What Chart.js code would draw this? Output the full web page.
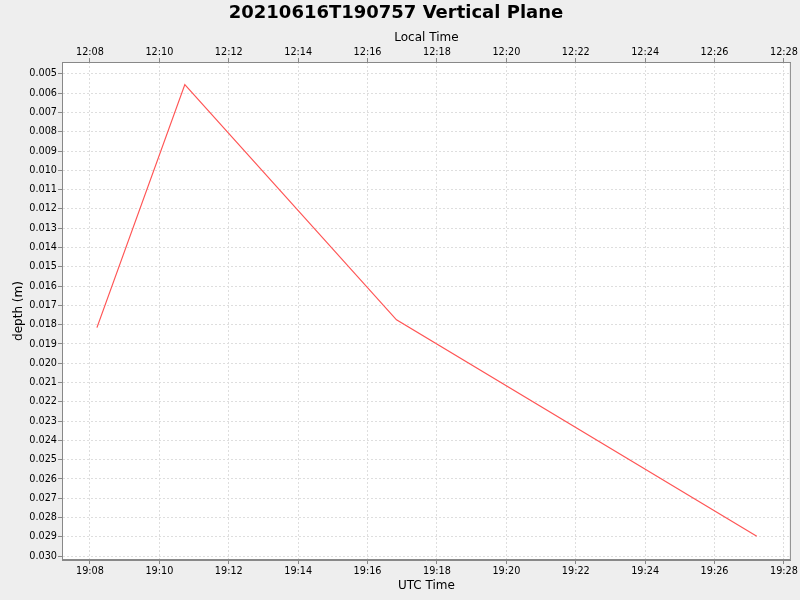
<!DOCTYPE html>
<html>
<head>
<meta charset="utf-8">
<script src="https://cdn.jsdelivr.net/npm/chart.js@4"></script>
<style>
  body { margin: 0; background: #eeeeee; }
  canvas { display: block; }
</style>
</head>
<body>
<canvas id="myChart" width="800" height="600"></canvas>
<script>
// readings (UTC) and depth
const utcTimes = ["19:08:12", "19:10:44", "19:16:50", "19:27:13"];
const depths = [0.01815, 0.00555, 0.01775, 0.02897];

const timeTicks = ["19:08", "19:10", "19:12", "19:14", "19:16", "19:18",
  "19:20", "19:22", "19:24", "19:26", "19:28"];
const depthTicks = [0.005, 0.006, 0.007, 0.008, 0.009, 0.010, 0.011, 0.012,
  0.013, 0.014, 0.015, 0.016, 0.017, 0.018, 0.019, 0.020, 0.021, 0.022,
  0.023, 0.024, 0.025, 0.026, 0.027, 0.028, 0.029, 0.030];
const localOffsetHours = -7;

function toSec(str) {
  const p = str.split(":").map(Number);
  return p[0] * 3600 + p[1] * 60 + (p[2] || 0);
}

function fmt(sec) {
  sec = ((Math.round(sec) % 86400) + 86400) % 86400;
  const h = Math.floor(sec / 3600);
  const m = Math.floor((sec % 3600) / 60);
  return String(h).padStart(2, "0") + ":" + String(m).padStart(2, "0");
}

const points = utcTimes.map((t, i) => ({ x: toSec(t), y: depths[i] }));
const xMin = toSec("19:07:11.6");
const xMax = toSec("19:28:12");

const tickFont = { family: "DejaVu Sans", size: 9.7 };
const titleFont = { family: "DejaVu Sans", size: 12 };
const gridStyle = {
  color: "#dedede",
  borderDash: [2, 2],
  tickColor: "#888888",
  tickBorderDash: [],
  tickLength: 4,
};
const borderStyle = { color: "#888888", dash: [2, 2] };

const plotFrame = {
  id: "plotFrame",
  beforeDraw(chart) {
    const a = chart.chartArea;
    const c = chart.ctx;
    c.save();
    c.fillStyle = "#ffffff";
    c.fillRect(a.left, a.top, a.right - a.left, a.bottom - a.top);
    c.restore();
  },
  afterDraw(chart) {
    const a = chart.chartArea;
    const c = chart.ctx;
    c.save();
    c.setLineDash([]);
    c.strokeStyle = "#888888";
    c.lineWidth = 1;
    c.strokeRect(a.left + 0.5, a.top + 0.5, a.right - a.left - 1, a.bottom - a.top - 1);
    c.restore();
  },
};

const ctx = document.getElementById("myChart");

new Chart(ctx, {
  type: "line",
  data: {
    datasets: [
      {
        label: "depth",
        data: points,
        borderColor: "#ff5555",
        borderWidth: 1.2,
        pointRadius: 0,
        tension: 0,
        fill: false,
      },
    ],
  },
  plugins: [plotFrame],
  options: {
    responsive: false,
    animation: false,
    devicePixelRatio: 1,
    layout: { padding: { left: 0, right: 8, top: 0, bottom: 0 } },
    plugins: {
      legend: { display: false },
      tooltip: { enabled: false },
      title: {
        display: true,
        text: "20210616T190757 Vertical Plane",
        color: "#000000",
        font: { family: "DejaVu Sans", size: 18, weight: "bold" },
        padding: { top: 3, bottom: 0 },
      },
    },
    scales: {
      x: {
        type: "linear",
        position: "bottom",
        min: xMin,
        max: xMax,
        afterBuildTicks: (s) => { s.ticks = timeTicks.map((t) => ({ value: toSec(t) })); },
        afterFit: (s) => { s.height = 40; },
        ticks: {
          autoSkip: false,
          maxRotation: 0,
          padding: 2,
          color: "#000000",
          font: tickFont,
          callback: (v) => fmt(v),
        },
        grid: gridStyle,
        border: borderStyle,
        title: {
          display: true,
          text: "UTC Time",
          color: "#000000",
          font: titleFont,
          padding: { top: 2, bottom: 7 },
        },
      },
      x2: {
        type: "linear",
        position: "top",
        min: xMin,
        max: xMax,
        afterBuildTicks: (s) => { s.ticks = timeTicks.map((t) => ({ value: toSec(t) })); },
        afterFit: (s) => { s.height = 37.4; },
        ticks: {
          autoSkip: false,
          maxRotation: 0,
          padding: 0,
          color: "#000000",
          font: tickFont,
          callback: (v) => fmt(v + localOffsetHours * 3600),
        },
        grid: { drawOnChartArea: false, drawTicks: true, tickColor: "#888888", tickLength: 4 },
        border: { color: "#888888" },
        title: {
          display: true,
          text: "Local Time",
          color: "#000000",
          font: titleFont,
          padding: { top: 6, bottom: 0 },
        },
      },
      y: {
        type: "linear",
        reverse: true,
        min: 0.00438,
        max: 0.0302,
        afterBuildTicks: (s) => { s.ticks = depthTicks.map((v) => ({ value: v })); },
        afterFit: (s) => { s.width = 62; },
        ticks: {
          autoSkip: false,
          padding: 1,
          color: "#000000",
          font: tickFont,
          callback: (v) => v.toFixed(3),
        },
        grid: gridStyle,
        border: borderStyle,
        title: {
          display: true,
          text: "depth (m)",
          color: "#000000",
          font: titleFont,
          padding: { top: 12, bottom: 0 },
        },
      },
    },
  },
});
</script>
</body>
</html>
